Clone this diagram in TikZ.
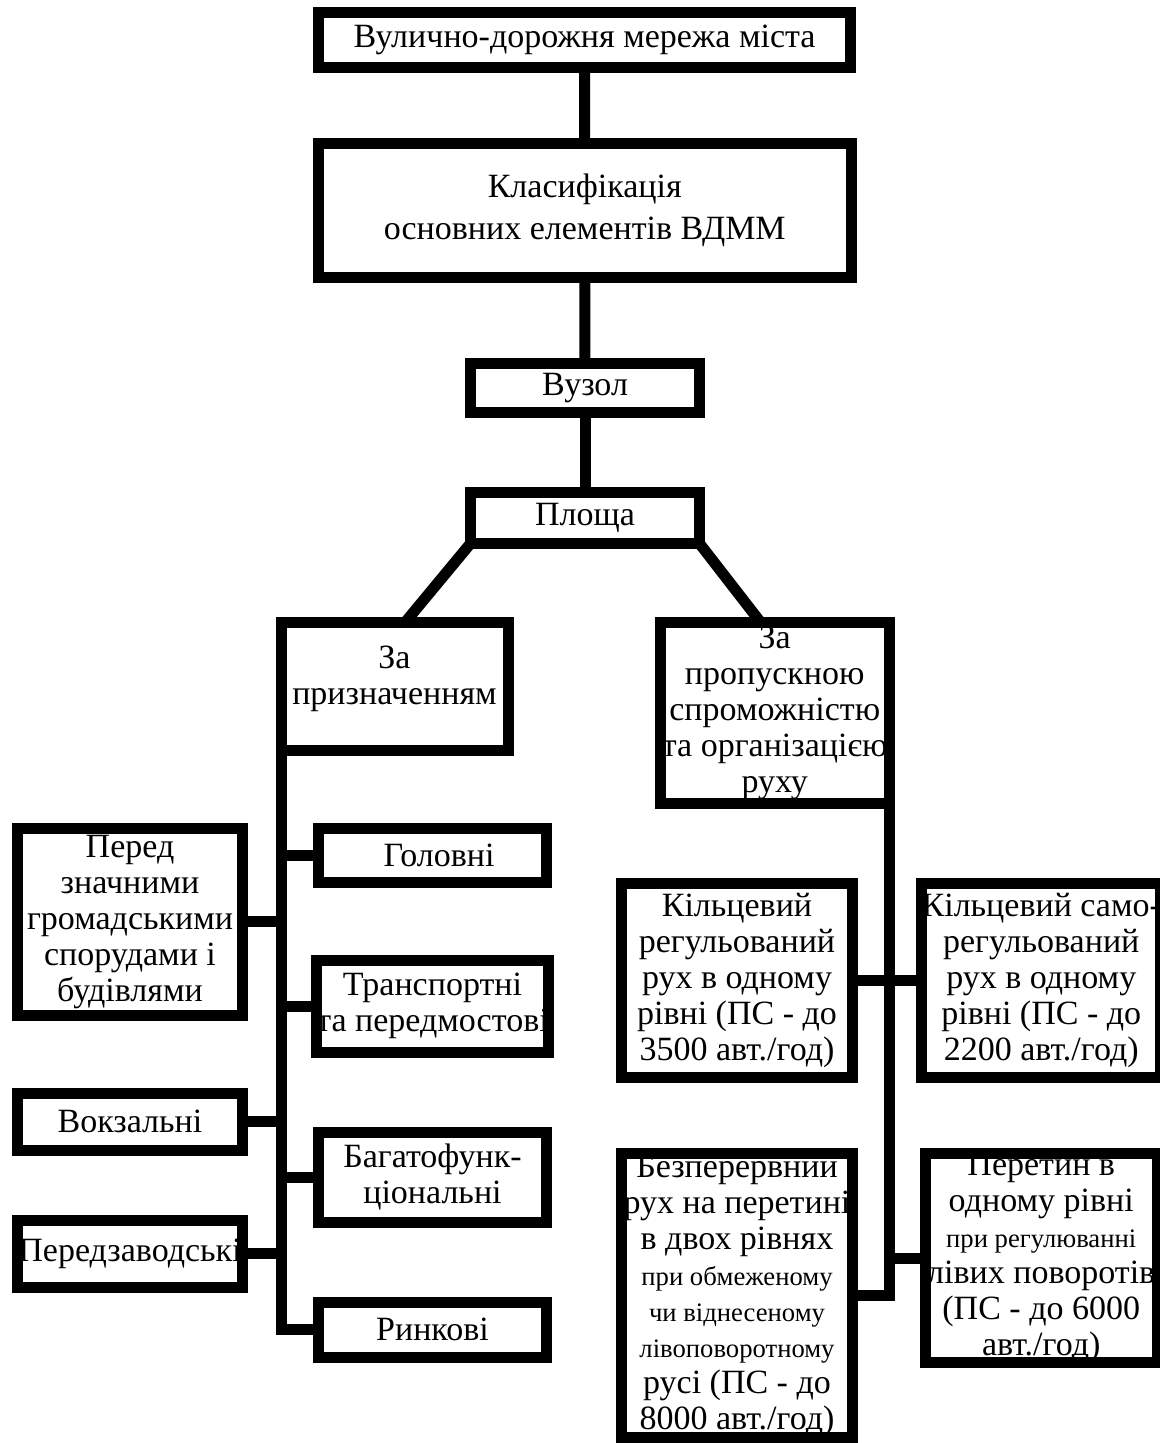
\documentclass[tikz,border=0pt]{standalone}
\usepackage{fontspec}
\setmainfont{Liberation Serif}
\usetikzlibrary{calc}
\newcommand{\smf}{\fontsize{20}{27}\selectfont}
% \mybox[options]{name}{x1}{y1}{x2}{y2}{text}: border centre lines in px
\newcommand{\mybox}[7][]{%
  \node[box, minimum width={(#5-#3)*0.75pt}, minimum height={(#6-#4)*0.75pt}, #1]
    (#2) at ({(#3+#5)/2},{(#4+#6)/2}) {#7};}
\begin{document}
\begin{tikzpicture}[x=0.75pt,y=-0.75pt,
  box/.style={fill=white, inner sep=0pt, outer sep=0pt, align=center,
    font=\fontsize{25.5}{27}\selectfont},
  bord/.style={draw=black, line width=8.25pt, line join=miter},
  conn/.style={draw=black, line width=8.25pt, line join=miter}]
\fill[white] (0,0) rectangle (1160,1443);
\useasboundingbox (0,0) rectangle (1160,1443);

% nodes
\mybox{T}{318.5}{12.5}{850.5}{67.5}{Вулично-дорожня мережа міста}
\mybox[font=\fontsize{25.5}{31.5}\selectfont]{K}{318.5}{143.5}{851}{277.5}{Класифікація\\основних елементів ВДММ}
\mybox{V}{470.5}{363.5}{699.5}{412.5}{Вузол}
\mybox{P}{470.5}{492.5}{699.5}{543.5}{Площа}
\mybox{ZP}{281}{622.5}{508}{750.5}{За\\призначенням\\[-10.5pt]}
\mybox{ZR}{660.5}{622.5}{889}{803}{За\\пропускною\\спроможністю\\та організацією\\руху}
\mybox{PR}{17.5}{828.5}{242.5}{1015}{Перед\\значними\\громадськими\\спорудами і\\будівлями}
\mybox{HL}{318.5}{828.5}{546.5}{882}{\hspace*{10pt}Головні}
\mybox{TR}{318.5}{960.5}{546.5}{1052}{Транспортні\\та передмостові}
\mybox{VK}{17.5}{1093.5}{242.5}{1150}{Вокзальні}
\mybox{BF}{318.5}{1132.5}{546.5}{1222}{Багатофунк-\\ціональні}
\mybox{PZ}{17.5}{1220.5}{242.5}{1287}{Передзаводські}
\mybox{RN}{318.5}{1302.5}{546.5}{1357}{Ринкові}
\mybox{KR}{621.5}{883.5}{852.5}{1077.5}{Кільцевий\\регульований\\рух в одному\\рівні (ПС - до\\3500 авт./год)}
\mybox{KS}{925.5}{883.5}{1157}{1077.5}{Кільцевий само-\\регульований\\рух в одному\\рівні (ПС - до\\2200 авт./год)}
\mybox{BZ}{621.5}{1153.5}{852.5}{1437.5}{Безперервний\\рух на перетині\\в двох рівнях\\{\smf при обмеженому}\\{\smf чи віднесеному}\\{\smf лівоповоротному}\\русі (ПС - до\\8000 авт./год)}
\mybox{PT}{925.5}{1153.5}{1157}{1362.5}{Перетин в\\одному рівні\\{\smf при регулюванні}\\лівих поворотів\\(ПС - до 6000\\авт./год)}

% borders drawn over the text
\foreach \n in {T,K,V,P,ZP,ZR,PR,HL,TR,VK,BF,PZ,RN,KR,KS,BZ,PT}
  \draw[bord] (\n.north west) rectangle (\n.south east);

% connectors
\draw[conn] (T.south) -- (K.north);
\draw[conn] (K.south) -- (V.north);
\draw[conn] (V.south) -- (P.north);
\draw[conn] (P.south west) -- ($(ZP.north)+(10.5,0)$);
\draw[conn] (P.south east) -- ($(ZR.north)+(-14,0)$);

\coordinate (lt) at (ZP.south west |- RN.west);
\draw[conn] (ZP.south west) -- (lt) -- (RN.west);
\draw[conn] (PR.east) -- (PR.east -| lt);
\draw[conn] (HL.west) -- (HL.west -| lt);
\draw[conn] (TR.west) -- (TR.west -| lt);
\draw[conn] (VK.east) -- (VK.east -| lt);
\draw[conn] (BF.west) -- (BF.west -| lt);
\draw[conn] (PZ.east) -- (PZ.east -| lt);

\coordinate (rt) at (ZR.south east |- BZ.east);
\draw[conn] (ZR.south east) -- (rt) -- (BZ.east);
\draw[conn] (KR.east) -- (KS.west);
\draw[conn] (PT.west) -- (PT.west -| rt);
\end{tikzpicture}
\end{document}
